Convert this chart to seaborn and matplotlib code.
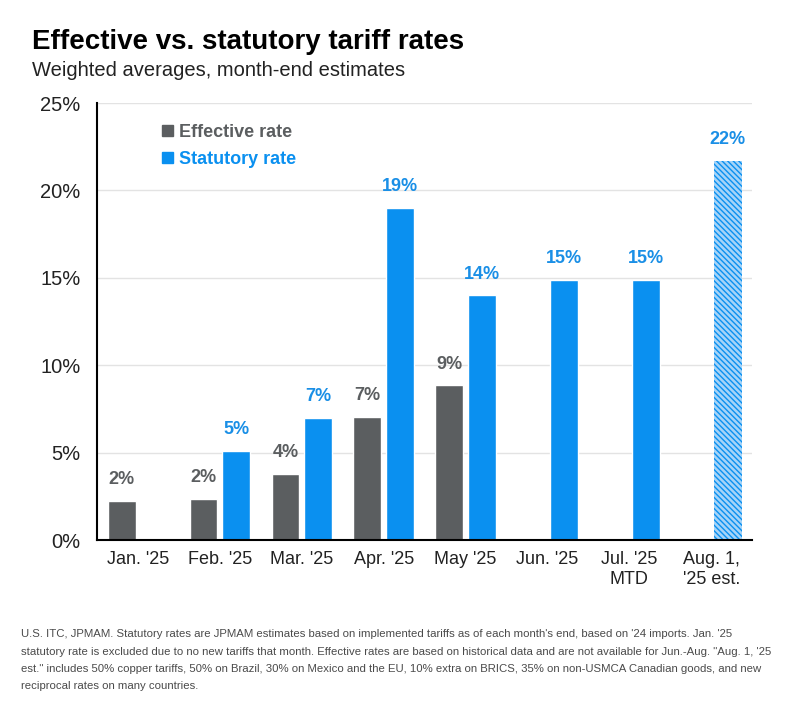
import matplotlib
matplotlib.use("Agg")
import matplotlib.pyplot as plt
from matplotlib.patches import Patch
from matplotlib.ticker import FuncFormatter, FixedLocator
import seaborn as sns
import pandas as pd

sns.set_theme(style="white")
plt.rcParams["font.family"] = ["Liberation Sans", "DejaVu Sans"]

# data (percent)
months = ["Jan. '25", "Feb. '25", "Mar. '25", "Apr. '25", "May '25",
          "Jun. '25", "Jul. '25\nMTD", "Aug. 1,\n'25 est."]
effective = [2.25, 2.35, 3.8, 7.05, 8.85, None, None, None]
statutory = [None, 5.1, 7.0, 19.0, 14.0, 14.9, 14.9, 21.7]
series = ["Effective rate", "Statutory rate"]

GRAY = "#5b5e60"
BLUE = "#0a90f0"

df = pd.DataFrame({
    "month": months * 2,
    "rate": effective + statutory,
    "series": [series[0]] * len(months) + [series[1]] * len(months),
})

fig = plt.figure(figsize=(7.96, 7.21), dpi=100)
ax = fig.add_axes([0.122, 0.251, 0.823, 0.606])

sns.barplot(data=df, x="month", y="rate", hue="series", order=months,
            hue_order=series, palette=[GRAY, BLUE], width=0.8, gap=0.15,
            saturation=1, legend=False, ax=ax)

# last statutory bar is an estimate -> hatched
last = ax.containers[1].patches[-1]
last.set_facecolor("#a6d4f8")
last.set_edgecolor(BLUE)
last.set_hatch("\\\\\\\\\\\\")
last.set_linewidth(0)

# value labels
for cont, col in zip(ax.containers, [GRAY, "#1a8fe6"]):
    labels = [f"{v:.0f}%" for v in cont.datavalues]
    ax.bar_label(cont, labels=labels, padding=9, color=col,
                 fontsize=13, fontweight="bold")

ax.set_ylim(0, 25)
ax.set_xlim(-0.5, len(months) - 0.5)
ax.set_yticks([0, 5, 10, 15, 20, 25])
ax.yaxis.set_major_formatter(FuncFormatter(lambda v, p: f"{v:.0f}%"))
ax.tick_params(axis="y", length=0, pad=12, labelsize=14.5, labelcolor="#222222")
ax.tick_params(axis="x", which="major", length=0, pad=8, labelsize=13,
               labelcolor="#222222")
ax.xaxis.set_minor_locator(FixedLocator([i - 0.5 for i in range(len(months) + 1)]))
ax.tick_params(axis="x", which="minor", length=6, width=1.5, color="black",
               direction="out")
ax.set_xlabel("")
ax.set_ylabel("")

ax.grid(axis="y", color="#e3e3e3", linewidth=1)
ax.set_axisbelow(True)
for s in ["top", "right"]:
    ax.spines[s].set_visible(False)
for s in ["left", "bottom"]:
    ax.spines[s].set_color("black")
    ax.spines[s].set_linewidth(1.5)

leg = ax.legend(handles=[Patch(color=GRAY), Patch(color=BLUE)], labels=series,
                loc="upper left", bbox_to_anchor=(0.075, 0.99), frameon=False,
                handlelength=0.6, handleheight=0.6, handletextpad=0.3,
                labelspacing=0.55, prop={"size": 13, "weight": "bold"})
for t, c in zip(leg.get_texts(), [GRAY, BLUE]):
    t.set_color(c)

fig.text(0.04, 0.942, "Effective vs. statutory tariff rates", fontsize=20,
         fontweight="bold", color="black", va="center")
fig.text(0.04, 0.902, "Weighted averages, month-end estimates", fontsize=14.5,
         color="#222222", va="center")

note = ("U.S. ITC, JPMAM. Statutory rates are JPMAM estimates based on implemented tariffs as of each month's end, based on '24 imports. Jan. '25\n"
        "statutory rate is excluded due to no new tariffs that month. Effective rates are based on historical data and are not available for Jun.-Aug. \"Aug. 1, '25\n"
        "est.\" includes 50% copper tariffs, 50% on Brazil, 30% on Mexico and the EU, 10% extra on BRICS, 35% on non-USMCA Canadian goods, and new\n"
        "reciprocal rates on many countries.")
fig.text(0.027, 0.127, note, fontsize=8.2, color="#4a4a4a",
         va="top", linespacing=1.9)

fig.savefig("out.png", dpi=100)
